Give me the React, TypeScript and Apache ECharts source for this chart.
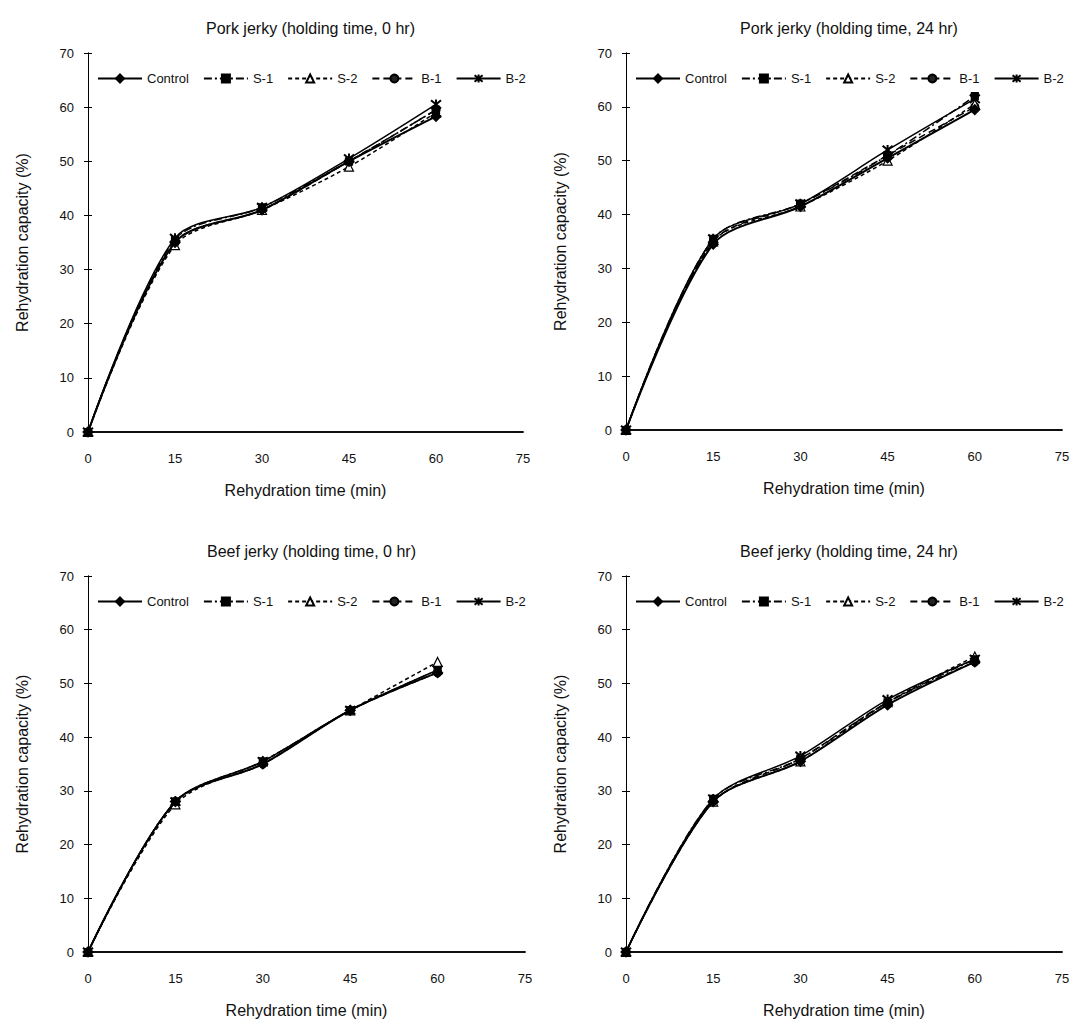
import React, { useEffect, useRef } from "react";
import * as echarts from "echarts";

const xTimes = [0, 15, 30, 45, 60];
const seriesNames = ["Control", "S-1", "S-2", "B-1", "B-2"];
const panelTitles = [
  "Pork jerky (holding time, 0 hr)",
  "Pork jerky (holding time, 24 hr)",
  "Beef jerky (holding time, 0 hr)",
  "Beef jerky (holding time, 24 hr)",
];

const porkHold0 = [
  [0, 35, 41, 50, 58.3],
  [0, 35.5, 41.5, 50, 59.5],
  [0, 34.5, 41, 49, 59],
  [0, 35, 41, 50, 59.5],
  [0, 35.8, 41.5, 50.5, 60.5],
];
const porkHold24 = [
  [0, 34.5, 41.5, 50.5, 59.5],
  [0, 35.5, 42, 51, 62],
  [0, 35, 41.5, 50, 60.5],
  [0, 35, 42, 51, 60],
  [0, 35.5, 42, 52, 61.5],
];
const beefHold0 = [
  [0, 28, 35, 45, 52],
  [0, 28, 35.5, 45, 52.5],
  [0, 27.5, 35.5, 45, 54],
  [0, 28, 35, 45, 52],
  [0, 28, 35.5, 45, 52.5],
];
const beefHold24 = [
  [0, 28, 35.5, 46, 54],
  [0, 28.5, 36, 46.5, 54.5],
  [0, 28, 35.5, 46.5, 55],
  [0, 28, 36, 46.5, 54],
  [0, 28.5, 36.5, 47, 54.5],
];
const panels = [porkHold0, porkHold24, beefHold0, beefHold24];

const ASTERISK = "path://M0,0L10,10M10,0L0,10M5,-1L5,11";

const styles: any[] = [
  { symbol: "diamond", symbolSize: 10, line: { type: "solid", width: 2 }, fill: "#000" },
  { symbol: "rect", symbolSize: 7, line: { type: [8, 3, 2, 3], width: 1.5 }, fill: "#000" },
  { symbol: "triangle", symbolSize: 9, line: { type: [4, 3], width: 1.5 }, fill: "#fff" },
  { symbol: "circle", symbolSize: 8, line: { type: [7, 4], width: 1.5 }, fill: "#222" },
  { symbol: ASTERISK, symbolSize: 10, line: { type: "solid", width: 1.5 }, fill: "none" },
];

const grids = [
  { left: 88, top: 53, width: 435, height: 379 },
  { left: 626, top: 53, width: 436, height: 377 },
  { left: 88, top: 576, width: 437, height: 376 },
  { left: 626, top: 576, width: 436, height: 376 },
];

const FONT = "Liberation Sans";

export default function App() {
  const ref = useRef<HTMLDivElement>(null);
  useEffect(() => {
    document.body.style.margin = "0";
    const chart = echarts.init(ref.current!, null, { renderer: "svg" });
    const xAxis: any[] = [];
    const yAxis: any[] = [];
    const series: any[] = [];
    const title: any[] = [];
    const legend: any[] = [];
    grids.forEach((g, i) => {
      title.push({
        text: panelTitles[i],
        left: g.left + g.width / 2,
        textAlign: "center",
        top: g.top - 38,
        textStyle: { fontFamily: FONT, fontSize: 16, fontWeight: "normal", color: "#111" },
      });
      legend.push({
        data: seriesNames,
        left: g.left + 4,
        top: g.top + 14,
        itemWidth: 44,
        itemHeight: 10,
        itemGap: 14,
        textStyle: { fontFamily: FONT, fontSize: 13, color: "#111" },
        selectedMode: false,
      });
      xAxis.push({
        type: "value",
        gridIndex: i,
        min: 0,
        max: 75,
        interval: 15,
        name: "Rehydration time (min)",
        nameLocation: "middle",
        nameGap: 50,
        nameTextStyle: { fontFamily: FONT, fontSize: 16, color: "#111" },
        axisLine: { lineStyle: { color: "#000", width: 1.5 } },
        axisTick: { show: false },
        axisLabel: { fontFamily: FONT, fontSize: 13, color: "#111", margin: 20 },
        splitLine: { show: false },
      });
      yAxis.push({
        type: "value",
        gridIndex: i,
        min: 0,
        max: 70,
        interval: 10,
        name: "Rehydration capacity (%)",
        nameLocation: "middle",
        nameGap: 58,
        nameTextStyle: { fontFamily: FONT, fontSize: 16, color: "#111" },
        axisLine: { lineStyle: { color: "#000", width: 1 } },
        axisTick: { inside: true, length: 4, lineStyle: { color: "#000" } },
        axisLabel: { fontFamily: FONT, fontSize: 13, color: "#111", margin: 14 },
        splitLine: { show: false },
      });
      yAxis.push({
        type: "value",
        gridIndex: i,
        position: "right",
        min: 0,
        max: 70,
        interval: 10,
        axisLine: { show: true, lineStyle: { color: "#000", width: 1 } },
        axisTick: { inside: true, length: 4, lineStyle: { color: "#000" } },
        axisLabel: { show: false },
        splitLine: { show: false },
      });
      xAxis.push({
        type: "value",
        gridIndex: i,
        position: "top",
        min: 0,
        max: 75,
        interval: 15,
        axisLine: { show: true, lineStyle: { color: "#000", width: 1.5 } },
        axisTick: { show: false },
        axisLabel: { show: false },
        splitLine: { show: false },
      });
      panels[i].forEach((vals, s) => {
        const st = styles[s];
        series.push({
          type: "line",
          name: seriesNames[s],
          xAxisIndex: i * 2,
          yAxisIndex: i * 2,
          data: xTimes.map((t, k) => [t, vals[k]]),
          smooth: 0.3,
          symbol: st.symbol,
          symbolSize: st.symbolSize,
          showSymbol: true,
          lineStyle: { color: "#000", type: st.line.type, width: st.line.width },
          itemStyle: { color: st.fill, borderColor: "#000", borderWidth: s === 4 ? 2 : 1.2 },
          z: 10 - s,
        });
      });
    });
    chart.setOption({
      animation: false,
      backgroundColor: "#fff",
      grid: grids,
      title,
      legend,
      xAxis,
      yAxis,
      series,
    });
    return () => chart.dispose();
  }, []);
  return <div ref={ref} style={{ width: 1073, height: 1027 }} />;
}
